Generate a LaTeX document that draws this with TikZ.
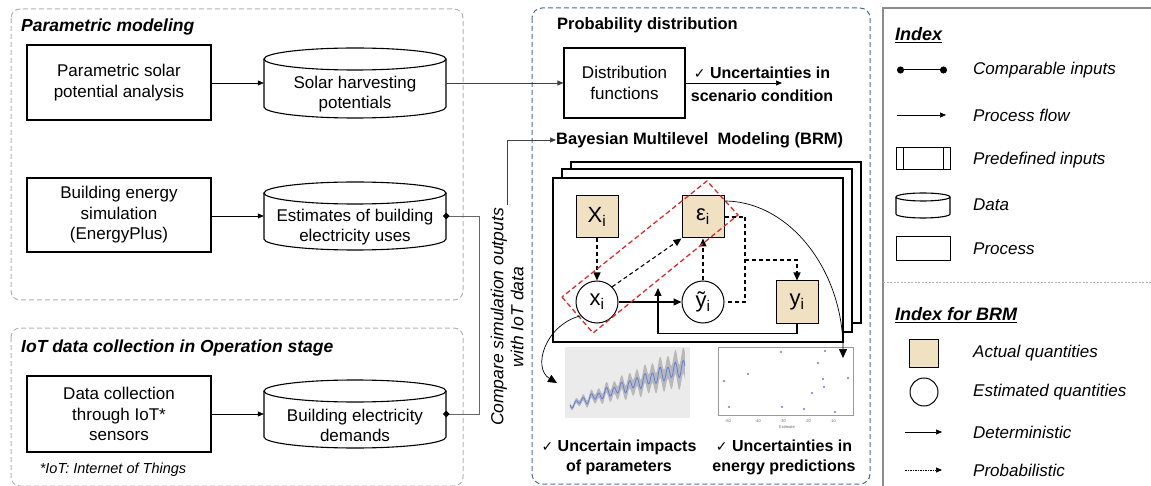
\documentclass[tikz,border=0pt]{standalone}
\usepackage{fontspec}
\setmainfont{Liberation Sans}
\newfontfamily\symfont{DejaVu Sans}
\usetikzlibrary{arrows.meta,shapes.geometric,calc}

\definecolor{actualfill}{RGB}{240,225,194}
\definecolor{panelblue}{RGB}{72,110,150}
\definecolor{redbox}{RGB}{222,42,42}
\definecolor{plotblue}{RGB}{95,125,230}
\definecolor{plotbg}{RGB}{235,235,235}

\newcommand\chk{{\symfont\fontsize{14}{16}\selectfont ✓}~}

% upright data cylinder: name, left, top, right, bottom, cap radius, text
\newcommand\datacyl[7]{%
  \node[cylanchor, minimum width={(#4-#2)*1pt}, minimum height={(#5-#3)*1pt}] (#1) at ({(#2+#4)/2},{(#3+#5)/2}) {};
  \draw[cylline] ({(#2+#4)/2},{#3+#6}) ellipse [x radius={(#4-#2)/2}, y radius=#6];
  \draw[cylline] (#2,{#3+#6}) -- (#2,{#5-#6})
    .. controls (#2,{#5-#6+0.552*#6}) and ({(#2+#4)/2-0.552*(#4-#2)/2},#5) .. ({(#2+#4)/2},#5)
    .. controls ({(#2+#4)/2+0.552*(#4-#2)/2},#5) and (#4,{#5-#6+0.552*#6}) .. (#4,{#5-#6})
    -- (#4,{#3+#6});
  \node[lbl] (#1-t) at ($(#1.center)+(0,#6)$) {#7};
}

\begin{document}
\begin{tikzpicture}[x=1pt,y=-1pt,
  lbl/.style={inner sep=0pt, align=center, font=\fontsize{17}{20}\selectfont},
  procbox/.style={draw, line width=1.1pt, minimum width=184pt, align=center, inner sep=0pt, font=\fontsize{17}{20.5}\selectfont},
  cylanchor/.style={inner sep=0pt, draw=none},
  cylline/.style={line width=1.1pt},
  hdr/.style={anchor=west, inner sep=0pt, font=\fontsize{17.5}{21}\selectfont\bfseries\itshape},
  bhdr/.style={anchor=west, inner sep=0pt, font=\fontsize{16.5}{20}\selectfont\bfseries},
  note/.style={inner sep=0pt, align=center, font=\fontsize{16}{20}\selectfont\bfseries},
  flow/.style={-{Triangle[length=6pt,width=5pt]}, line width=0.7pt},
  link/.style={line width=0.7pt, draw=black!60},
  dmd/.style={diamond, fill=black, inner sep=0pt, minimum size=7pt},
  greypanel/.style={draw=black!30, dash pattern=on 5pt off 3pt, rounded corners=9pt, line width=1pt},
  bluepanel/.style={draw=panelblue, dash pattern=on 5pt off 3pt, rounded corners=10pt, line width=1pt},
  brmframe/.style={draw, fill=white, line width=1.2pt},
  actual/.style={draw, fill=actualfill, line width=1pt, minimum size=42pt, inner sep=0pt, font=\fontsize{22}{24}\selectfont},
  estim/.style={circle, draw, fill=white, line width=1pt, minimum size=42pt, inner sep=0pt, font=\fontsize{22}{24}\selectfont},
  det/.style={-{Triangle[length=8pt,width=7pt]}, line width=1.1pt},
  prob/.style={det, dash pattern=on 4pt off 3pt},
  probline/.style={line width=1.1pt, dash pattern=on 4pt off 3pt},
  outcurve/.style={line width=0.7pt, -{Triangle[length=9pt,width=8pt]}},
  redframe/.style={draw=redbox, line width=1.3pt, dash pattern=on 5pt off 3pt},
  idxtxt/.style={anchor=west, inner sep=0pt, font=\fontsize{17}{21}\selectfont\itshape},
  idxhdr/.style={anchor=west, inner sep=0pt, font=\fontsize{18}{21}\selectfont\bfseries\itshape},
  legline/.style={line width=1pt},
  tick/.style={inner sep=0pt, font=\fontsize{4}{5}\selectfont, text=black!60}]

\useasboundingbox (0,0) rectangle (1151,486);
\clip (0,0) rectangle (1151,486);

% ---------- panels ----------
\draw[greypanel] (11,9) rectangle (463,300);
\draw[greypanel] (11,328) rectangle (463,486);
\draw[bluepanel] (532,8) rectangle (870,484);
\draw[line width=1.2pt, draw=black!45] (883,8) rectangle (1165,500);

\node[hdr] (h1) at (21,27) {Parametric modeling};
\node[hdr] (h2) at (21,348) {IoT data collection in Operation stage};
\node[bhdr] (h3) at (557,25) {Probability distribution};

% ---------- processes and data ----------
\node[procbox, minimum height=75pt] (b1) at (119,82.5) {Parametric solar\\potential analysis};
\node[procbox, minimum height=74pt] (b2) at (119,215) {Building energy\\simulation\\(EnergyPlus)};
\node[procbox, minimum height=76pt] (b3) at (119,414) {Data collection\\through IoT*\\sensors};
\node[lbl, font=\fontsize{14.5}{17}\selectfont\itshape] (fn) at (113,470) {*IoT: Internet of Things};

\datacyl{c1}{264}{48}{446}{118}{11}{Solar harvesting\\potentials}
\datacyl{c2}{264}{182}{446}{250}{11}{Estimates of building\\electricity uses}
\datacyl{c3}{264}{380}{446}{448}{11}{Building electricity\\demands}

\draw[flow] (b1.east |- c1.center) -- (c1.west);
\draw[flow] (b2.east |- c2.center) -- (c2.west);
\draw[flow] (b3.east) -- (b3.east -| c3.west);

% ---------- distribution functions ----------
\node[procbox, minimum width=121pt, minimum height=70pt] (dist) at (624.5,83) {Distribution\\functions};
\draw[flow, draw=black!75] (c1.east) -- (c1.east -| dist.west);
\coordinate (sc) at (782,83);
\draw[flow] (dist.east) -- (sc);
\node[note, font=\fontsize{16}{23}\selectfont\bfseries] (u0) at (762,84) {\chk Uncertainties in\\scenario condition};

% ---------- comparison of simulation and IoT data ----------
\coordinate (j1) at (479,216);
\coordinate (j2) at (479,414);
\draw[link] (c2.east) -- (j1) -- (j2) -- (c3.east);
\node[dmd] (d2) at (c2.east) {};
\node[dmd] (d3) at (c3.east) {};
\node[lbl, rotate=90, inner sep=3pt, font=\fontsize{17.5}{20}\selectfont\itshape] (cmp) at (507,317) {Compare simulation outputs\\with IoT data};
\node[bhdr] (brm) at (556,140) {Bayesian Multilevel\ \ Modeling (BRM)};
\draw[flow, draw=black!75] (cmp.east) |- (brm.west);

% ---------- BRM plates ----------
\draw[brmframe] (571,162) rectangle (861,323);
\draw[brmframe] (562,169) rectangle (852,332);
\draw[brmframe] (553,178) rectangle (843,342);

\node[actual] (Xs) at (597,217) {X\textsubscript{i}};
\node[actual] (eps) at (703,217) {ε\textsubscript{i}};
\node[actual] (ys) at (797,302) {y\textsubscript{i}};
\node[estim] (xc) at (597,302) {x\textsubscript{i}};
\node[estim] (yt) at (703,302) {ỹ\textsubscript{i}};

\draw[prob] (Xs) -- (xc);
\draw[prob] (xc.45) -- (eps.south west);
\draw[prob] (yt) -- (eps);
\coordinate (k1) at (745,217);
\coordinate (k2) at (745,302);
\coordinate (k3) at (745,260);
\draw[probline] (eps.east) -- (k1) -- (k2) -- (yt.east);
\draw[prob] (k3) -| (ys.north);
\draw[det] (xc) -- (yt);
\coordinate (k4) at (658,288);
\draw[det] (ys.south) -- ++(0,10) -| (k4);

\draw[redframe] (562,297) -- (593,333) -- (738,215) -- (707,181) -- cycle;

% ---------- result plots ----------
\fill[plotbg] (565,347) rectangle (690,418);
\fill[black!28] plot[domain=0:1, samples=160]
    ({570+115*\x},{405-38*\x+(2.5+5*\x)*sin(5400*\x)+1.5*sin(3100*\x)-(2+11*\x)})
  -- plot[domain=1:0, samples=160]
    ({570+115*\x},{405-38*\x+(2.5+5*\x)*sin(5400*\x)+1.5*sin(3100*\x)+(2+11*\x)}) -- cycle;
\draw[plotblue, line width=0.8pt] plot[domain=0:1, samples=160]
    ({570+115*\x},{405-38*\x+(2.5+5*\x)*sin(5400*\x)+1.5*sin(3100*\x)});

\draw[black!40, fill=white, line width=0.6pt] (718,347) rectangle (853,415);
\foreach \px/\py in {724/381,729/407,748/374,781/352,782/407,804/409,812/393,818/363,823/379,824/387,825/351,835/412,848/378}
  \fill[plotblue] (\px,\py) circle (1.1);
\foreach \tx/\tl in {728/-50,758/-40,783/-30,808/-20,833/-10}
  \node[tick] (rt\tx) at (\tx,421) {\tl};
\node[tick] (rlab) at (787,427) {Estimate};

\draw[outcurve] (xc.-140) .. controls (545,325) and (532,368) .. (557,383);
\coordinate (e0) at (724,201);
\draw[outcurve] (e0) .. controls (790,201) and (843,271) .. (843,358);

\node[note] (u1) at (619,457) {\chk Uncertain impacts\\of parameters};
\node[note] (u2) at (784,457) {\chk Uncertainties in\\energy predictions};

% ---------- index ----------
\node[idxhdr] (i0) at (895,35) {\underline{Index}};
\draw[legline, {Circle[length=7pt]}-{Circle[length=7pt]}] (897,70) -- (947,70);
\node[idxtxt] (i1) at (973,70) {Comparable inputs};
\draw[flow] (897,115) -- (946,115);
\node[idxtxt] (i2) at (973,115) {Process flow};
\draw[legline] (896,148) rectangle (950,170);
\draw[legline] (903,148) -- (903,170);
\draw[legline] (943,148) -- (943,170);
\node[idxtxt] (i3) at (973,160) {Predefined inputs};
\datacyl{ldata}{896}{193}{950}{218}{4}{}
\node[idxtxt] (i4) at (973,205) {Data};
\draw[legline] (896,237) rectangle (950,261);
\node[idxtxt] (i5) at (973,249) {Process};
\draw[black!30, dash pattern=on 2pt off 1.5pt, line width=0.6pt] (883,282) -- (1151,282);

\node[idxhdr] (i6) at (895,315) {\underline{Index for BRM}};
\draw[legline, fill=actualfill] (909,339) rectangle (938,367);
\node[idxtxt] (i7) at (973,353) {Actual quantities};
\draw[legline] (924,392) circle (14);
\node[idxtxt] (i8) at (973,392) {Estimated quantities};
\draw[flow] (905,432) -- (942,432);
\node[idxtxt] (i9) at (973,432) {Deterministic};
\draw[flow, dash pattern=on 1.5pt off 1pt] (905,470) -- (942,470);
\node[idxtxt] (i10) at (973,470) {Probabilistic};
\end{tikzpicture}
\end{document}
